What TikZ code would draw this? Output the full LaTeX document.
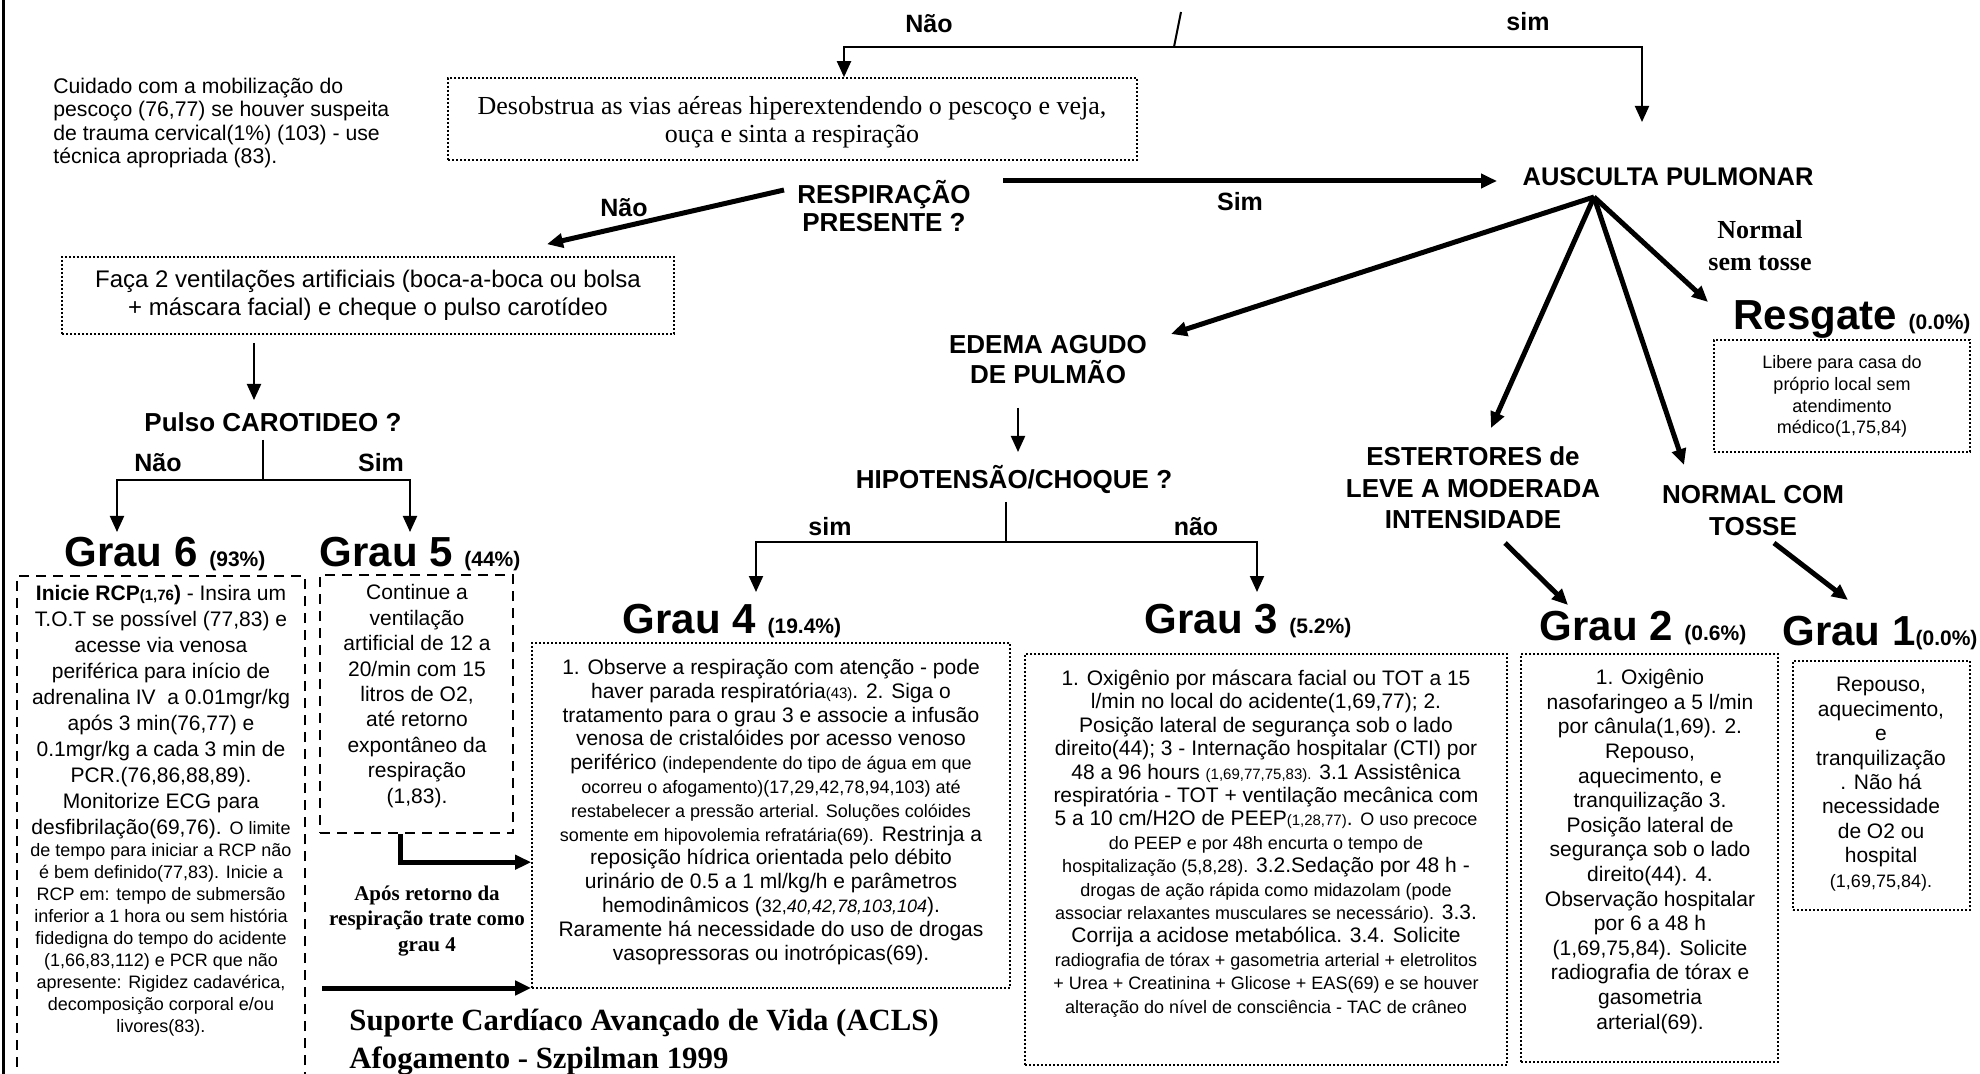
\documentclass[tikz,border=0pt]{standalone}
\usepackage{fontspec}
\setmainfont{Liberation Sans}
\newfontfamily\serifa{Liberation Serif}
\usetikzlibrary{arrows.meta, calc}

\newcommand{\pq}{\fontsize{9}{10.8}\selectfont}
\newcommand{\mpq}{\fontsize{7.5}{9}\selectfont}
\newcommand{\pct}[1]{{\fontsize{10.5}{12}\selectfont(#1\%)}}

\begin{document}
\begin{tikzpicture}[
    x=0.5pt, y=-0.5pt,
    >={Triangle[length=8pt,width=7pt]},
    fina/.style={line width=1pt},
    grossa/.style={line width=2.5pt},
    pontilhada/.style={draw, line width=.8pt, dash pattern=on .8pt off 1.2pt, inner sep=0pt},
    tracejada/.style={draw, line width=1.2pt, dash pattern=on 5pt off 3.5pt, inner sep=0pt},
    texto/.style={inner sep=0pt, align=center, anchor=base, font=\fontsize{10.5}{12.2}\selectfont},
    titulo/.style={inner sep=0pt, align=center, anchor=base, font=\bfseries\fontsize{13}{15}\selectfont},
    rotulo/.style={inner sep=0pt, anchor=base, font=\bfseries\fontsize{12.5}{14}\selectfont},
    grau/.style={inner sep=0pt, anchor=base, font=\bfseries\fontsize{21}{24}\selectfont}
  ]

  % os textos de varias linhas ficam presos pela linha de base da ultima linha
  \path[use as bounding box, fill=white] (0,0) rectangle (1980,1074);
  \clip (0,0) rectangle (1980,1074);
  \draw[line width=1.5pt] (3,0) -- (3,1074);

  % --- TOPO ---
  \coordinate (titulo) at (1181,12);
  \coordinate (jtopo) at (1174,47);
  \node[rotulo] (naotopo) at (929,33) {Não};
  \node[rotulo] (simtopo) at (1528,31) {sim};

  \node[texto, anchor=base west, align=left, font=\fontsize{10.6}{11.8}\selectfont] (cuidado) at (53,164)
    {Cuidado com a mobilização do\\pescoço (76,77) se houver suspeita\\de trauma cervical(1\%) (103) - use\\técnica apropriada (83).};

  \node[pontilhada, minimum width=344.5pt, minimum height=41pt] (desob) at (792.5,119) {};
  \node[texto, font=\serifa\fontsize{13}{14}\selectfont] (desobtxt) at (792,143)
    {Desobstrua as vias aéreas hiperextendendo o pescoço e veja,\\ouça e sinta a respiração};

  % --- RESPIRACAO ---
  \node[titulo, font=\bfseries\fontsize{13}{14}\selectfont] (resp) at (884,232) {RESPIRAÇÃO\\PRESENTE ?};
  \node[rotulo] (naoresp) at (624,217) {Não};
  \node[rotulo] (simresp) at (1240,211) {Sim};
  \node[titulo, font=\bfseries\fontsize{12.75}{14}\selectfont] (ausc) at (1668,186) {AUSCULTA PULMONAR};

  \node[pontilhada, minimum width=306pt, minimum height=38.5pt] (faca) at (368,295.5) {};
  \node[texto, font=\fontsize{12}{14}\selectfont] (facatxt) at (368,316)
    {Faça 2 ventilações artificiais (boca-a-boca ou bolsa\\+ máscara facial) e cheque o pulso carotídeo};

  % --- PULSO ---
  \node[titulo] (pulso) at (273,432) {Pulso CAROTIDEO ?};
  \node[rotulo] (naopulso) at (158,472) {Não};
  \node[rotulo] (simpulso) at (381,472) {Sim};

  % --- AUSCULTA ---
  \node[titulo, font=\bfseries\fontsize{13}{15}\selectfont] (edema) at (1048,384) {EDEMA AGUDO\\DE PULMÃO};
  \node[titulo] (hipo) at (1014,489) {HIPOTENSÃO/CHOQUE ?};
  \node[rotulo] (simhipo) at (830,536) {sim};
  \node[rotulo] (naohipo) at (1196,536) {não};
  \node[titulo, font=\bfseries\fontsize{13}{15.75}\selectfont] (ester) at (1473,529) {ESTERTORES de\\LEVE A MODERADA\\INTENSIDADE};
  \node[titulo, font=\bfseries\fontsize{13}{16}\selectfont] (normal) at (1753,536) {NORMAL COM\\TOSSE};
  \node[titulo, font=\serifa\bfseries\fontsize{13}{16}\selectfont] (semtosse) at (1760,271) {Normal\\sem tosse};

  % --- GRAUS ---
  \node[grau] (resgate) at (1852,330) {Resgate \pct{0.0}};
  \node[pontilhada, minimum width=128pt, minimum height=56pt] (resbox) at (1842,396) {};
  \node[texto, font=\fontsize{9}{10.85}\selectfont] (restxt) at (1842,434)
    {Libere para casa do\\próprio local sem\\atendimento\\médico(1,75,84)};

  \node[grau] (g6lab) at (165,567) {Grau 6 \pct{93}};
  \node[tracejada, minimum width=144pt, minimum height=262pt] (g6box) at (161,838) {};
  \node[texto, font=\fontsize{10.5}{13}\selectfont] (g6txt) at (161,1032) {%
    \textbf{Inicie RCP{\mpq(1,76})} - Insira um\\
    T.O.T se possível (77,83) e\\
    acesse via venosa\\
    periférica para início de\\
    adrenalina IV\ \ a 0.01mgr/kg\\
    após 3 min(76,77) e\\
    0.1mgr/kg a cada 3 min de\\
    PCR.(76,86,88,89).\\
    Monitorize ECG para\\
    desfibrilação(69,76). {\pq O limite}\\[-2pt]
    {\pq de tempo para iniciar a RCP não}\\[-2pt]
    {\pq é bem definido(77,83). Inicie a}\\[-2pt]
    {\pq RCP em: tempo de submersão}\\[-2pt]
    {\pq inferior a 1 hora ou sem história}\\[-2pt]
    {\pq fidedigna do tempo do acidente}\\[-2pt]
    {\pq (1,66,83,112) e PCR que não}\\[-2pt]
    {\pq apresente: Rigidez cadavérica,}\\[-2pt]
    {\pq decomposição corporal e/ou}\\[-2pt]
    {\pq livores(83).}};

  \node[grau] (g5lab) at (420,567) {Grau 5 \pct{44}};
  \node[tracejada, minimum width=96.5pt, minimum height=129pt] (g5box) at (416.5,704) {};
  \node[texto, font=\fontsize{10.5}{12.7}\selectfont] (g5txt) at (417,803)
    {Continue a\\ventilação\\artificial de 12 a\\20/min com 15\\litros de O2,\\até retorno\\expontâneo da\\respiração\\(1,83).};
  \node[texto, font=\serifa\bfseries\fontsize{10.5}{12.75}\selectfont] (apos) at (427,951)
    {Após retorno da\\respiração trate como\\grau 4};

  \node[grau] (g4lab) at (732,633) {Grau 4 \pct{19.4}};
  \node[pontilhada, minimum width=239pt, minimum height=172.5pt] (g4box) at (771,815.5) {};
  \node[texto, font=\fontsize{10.5}{11.9}\selectfont] (g4txt) at (771,960) {%
    1. Observe a respiração com atenção - pode\\
    haver parada respiratória{\mpq(43)}. 2. Siga o\\
    tratamento para o grau 3 e associe a infusão\\
    venosa de cristalóides por acesso venoso\\
    periférico {\pq (independente do tipo de água em que}\\
    {\pq ocorreu o afogamento)(17,29,42,78,94,103) até}\\
    {\pq restabelecer a pressão arterial. Soluções colóides}\\
    {\pq somente em hipovolemia refratária(69).} Restrinja a\\
    reposição hídrica orientada pelo débito\\
    urinário de 0.5 a 1 ml/kg/h e parâmetros\\
    hemodinâmicos ({\pq 32,\textit{40,42,78,103,104}}).\\
    Raramente há necessidade do uso de drogas\\
    vasopressoras ou inotrópicas(69).};

  \node[grau] (g3lab) at (1248,633) {Grau 3 \pct{5.2}};
  \node[pontilhada, minimum width=241pt, minimum height=205.5pt] (g3box) at (1266,859.5) {};
  \node[texto, font=\fontsize{10.5}{11.7}\selectfont] (g3txt) at (1266,1013) {%
    1. Oxigênio por máscara facial ou TOT a 15\\
    l/min no local do acidente(1,69,77); 2.\\
    Posição lateral de segurança sob o lado\\
    direito(44); 3 - Internação hospitalar (CTI) por\\
    48 a 96 hours {\mpq(1,69,77,75,83).} 3.1 Assistênica\\
    respiratória - TOT + ventilação mecânica com\\
    5 a 10 cm/H2O de PEEP{\mpq(1,28,77)}. {\pq O uso precoce}\\
    {\pq do PEEP e por 48h encurta o tempo de}\\
    {\pq hospitalização (5,8,28).} 3.2.Sedação por 48 h -\\
    {\pq drogas de ação rápida como midazolam (pode}\\
    {\pq associar relaxantes musculares se necessário).} 3.3.\\
    Corrija a acidose metabólica. 3.4. Solicite\\
    {\pq radiografia de tórax + gasometria arterial + eletrolitos}\\
    {\pq + Urea + Creatinina + Glicose + EAS(69) e se houver}\\
    {\pq alteração do nível de consciência - TAC de crâneo}};

  \node[grau] (g2lab) at (1643,640) {Grau 2 \pct{0.6}};
  \node[pontilhada, minimum width=128.5pt, minimum height=204pt] (g2box) at (1649.5,858) {};
  \node[texto, font=\fontsize{10.5}{12.3}\selectfont] (g2txt) at (1650,1029)
    {1. Oxigênio\\nasofaringeo a 5 l/min\\por cânula(1,69). 2.\\Repouso,\\aquecimento, e\\tranquilização 3.\\Posição lateral de\\segurança sob o lado\\direito(44). 4.\\Observação hospitalar\\por 6 a 48 h\\(1,69,75,84). Solicite\\radiografia de tórax e\\gasometria\\arterial(69).};

  \node[grau] (g1lab) at (1880,645) {Grau 1\pct{0.0}};
  \node[pontilhada, minimum width=88.5pt, minimum height=124.5pt] (g1box) at (1881.5,785.5) {};
  \node[texto, font=\fontsize{10.5}{12.2}\selectfont] (g1txt) at (1881,887)
    {Repouso,\\aquecimento,\\e\\tranquilização\\. Não há\\necessidade\\de O2 ou\\hospital\\{\pq (1,69,75,84).}};

  \node[anchor=base west, align=left, inner sep=0pt, font=\serifa\bfseries\fontsize{15.4}{19}\selectfont] (suporte) at (349,1068)
    {Suporte Cardíaco Avançado de Vida (ACLS)\\Afogamento - Szpilman 1999};

  % --- LIGACOES ---
  \draw[fina] (titulo) -- (jtopo);
  \draw[fina, ->] (jtopo) -| ($(desob.north)+(51.5,0)$);
  \draw[fina, ->] (jtopo) -| ($(ausc.base)+(-26,-64)$);

  \draw[grossa, ->] ($(resp.base)+(-100,-42)$) -- ($(faca.north)+(179,-12)$);
  \draw[grossa, ->] ($(resp.base)+(119,-51)$) -- ($(ausc.base)+(-171,-5)$);

  % leque da ausculta
  \coordinate (leque) at ($(ausc.base)+(-74,11)$);
  \draw[grossa, ->] (leque) -- ($(edema.base)+(123,-50)$);
  \draw[grossa, ->] (leque) -- ($(ester.base)+(18,-101)$);
  \draw[grossa, ->] (leque) -- ($(normal.base)+(-69,-71)$);
  \draw[grossa, ->] (leque) -- ($(resgate.base)+(-144,-28)$);

  \draw[fina, ->] ($(edema.base)+(-30,24)$) -- ($(hipo.base)+(4,-37)$);
  \draw[fina] ($(hipo.base)+(-8,13)$) -- ++(0,40) coordinate (jhipo);
  \draw[fina, ->] (jhipo) -| ($(g4lab.base)+(24,-41)$);
  \draw[fina, ->] (jhipo) -| ($(g3lab.base)+(9,-41)$);

  \draw[fina, ->] ($(faca.south)+(-114,8)$) -- ($(pulso.base)+(-19,-32)$);
  \draw[fina] ($(pulso.base)+(-10,8)$) -- ++(0,40) coordinate (jpulso);
  \draw[fina, ->] (jpulso) -| ($(g6lab.base)+(-48,-35)$);
  \draw[fina, ->] (jpulso) -| ($(g5lab.base)+(-10,-35)$);

  \draw[grossa, ->] ($(g5box.south)+(-16,0)$) -- ++(0,28) coordinate (japos) -- (japos -| g4box.west);
  \coordinate (acls0) at (322,988);
  \draw[grossa, ->] (acls0) -- (acls0 -| g4box.west);

  \draw[grossa, ->] ($(ester.base)+(32,14)$) -- ($(g2lab.base)+(-75,-35)$);
  \draw[grossa, ->] ($(normal.base)+(21,7)$) -- ($(g1lab.base)+(-32,-45)$);

\end{tikzpicture}
\end{document}
